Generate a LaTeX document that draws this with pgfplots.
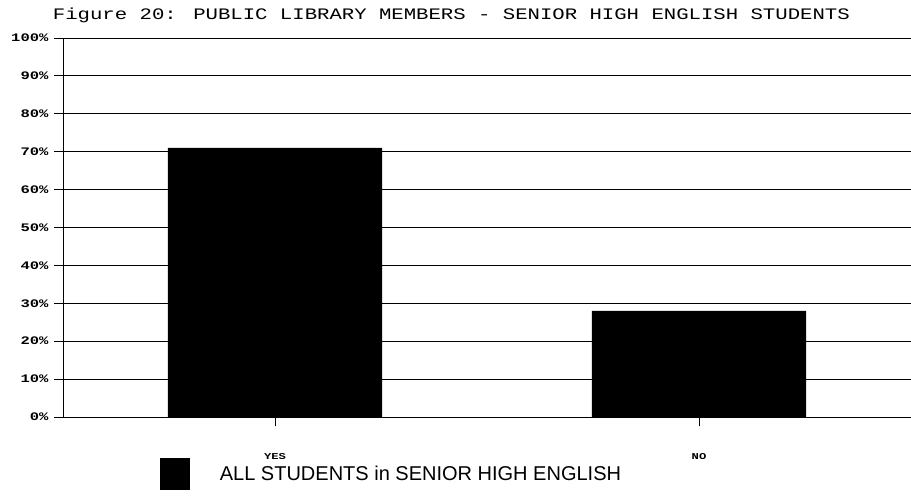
\documentclass[border=0pt]{standalone}
\usepackage{pgfplots}
\pgfplotsset{compat=1.18}
\usepackage{fontspec}
\setmainfont{Liberation Sans}
\newfontfamily\titlefont[FakeStretch=1.29]{Liberation Mono}
\newfontfamily\tickfont[FakeStretch=1.35]{Liberation Mono}
\begin{document}
\begin{tikzpicture}
\path[use as bounding box] (-63bp,-86bp) rectangle (848bp,417bp);
\begin{axis}[
  at={(0,0)}, anchor=south west,
  scale only axis, width=848bp, height=379bp,
  xmin=-0.5, xmax=1.5, ymin=0, ymax=100,
  axis x line*=bottom, axis y line*=left,
  axis line style={black, line width=0.8bp},
  ytick={0,10,...,100},
  yticklabel={\pgfmathprintnumber{\tick}\%},
  /pgf/number format/assume math mode=true,
  yticklabel style={font=\tickfont\bfseries\fontsize{11.5bp}{12bp}\selectfont, xshift=-2bp},
  xtick={0,1}, xticklabels={YES,NO},
  xticklabel style={font=\tickfont\bfseries\fontsize{9bp}{10bp}\selectfont, yshift=-24bp},
  tick align=outside, major tick length=9bp,
  tick style={black, line width=0.8bp},
  ymajorgrids, grid style={black, line width=0.8bp},
  title={Figure 20: PUBLIC LIBRARY MEMBERS - SENIOR HIGH ENGLISH STUDENTS},
  title style={font=\titlefont\fontsize{16bp}{18bp}\selectfont, at={(0.458,1.034)}, anchor=base, inner sep=0pt},
  legend style={draw=none, fill=none, at={(0.114,-0.150)}, anchor=west, inner sep=0pt,
    font=\fontsize{20bp}{24bp}\selectfont,
    /tikz/every odd column/.append style={column sep=28bp}},
  legend image code/.code={\fill[black] (0bp,-16bp) rectangle (30bp,16bp);},
]
\addplot[ybar, bar width=0.505, fill=black, draw=none] coordinates {(0,71) (1,28)};
\addlegendentry{ALL STUDENTS in SENIOR HIGH ENGLISH}
\end{axis}
\end{tikzpicture}
\end{document}
